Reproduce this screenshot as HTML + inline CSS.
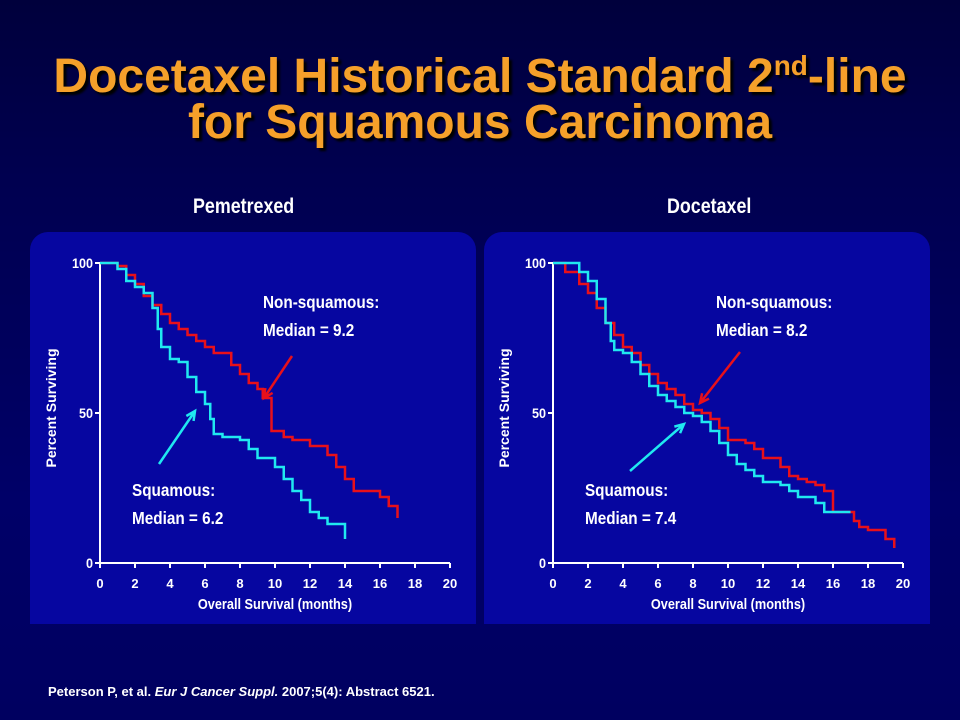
<!DOCTYPE html>
<html><head><meta charset="utf-8">
<style>
body{margin:0;width:960px;height:720px;overflow:hidden;background:linear-gradient(#00003c 0px,#000050 180px,#000068 500px,#000060 720px);font-family:"Liberation Sans",Arial,sans-serif;position:relative}
.title{position:absolute;left:0;width:960px;top:54px;text-align:center;color:#f5a02a;font-weight:bold;font-size:48px;line-height:46px;text-shadow:3px 3px 2px #000}
.title sup{font-size:28px;vertical-align:17px;line-height:0}
.panel{position:absolute;top:232px;width:446px;height:392px;background:#0606a0;border-radius:18px 18px 0 0}
.ptitle{position:absolute;top:195px;color:#fff;font-weight:bold;font-size:21px;transform:scaleX(0.85);transform-origin:left}
.foot{position:absolute;left:48px;top:684px;color:#fff;font-weight:bold;font-size:13px}
svg{position:absolute;left:0;top:0}
</style></head><body>
<div class="title">Docetaxel Historical Standard 2<sup>nd</sup>-line<br>for Squamous Carcinoma</div>
<div class="panel" style="left:30px"></div>
<div class="panel" style="left:484px"></div>
<div class="ptitle" style="left:193px">Pemetrexed</div>
<div class="ptitle" style="left:667px">Docetaxel</div>
<div class="foot">Peterson P, et al. <i>Eur J Cancer Suppl.</i> 2007;5(4): Abstract 6521.</div>
<svg id="chart" width="960" height="720"></svg>
<script>
const xTicks=[0,2,4,6,8,10,12,14,16,18,20];
const yTicks=[0,50,100];
const pemNonSqX=[0,1,1.5,2,2.5,3,3.5,4,4.5,5,5.5,6,6.5,7,7.5,8,8.5,9,9.3,9.8,10.5,11,12,13,13.5,14,14.5,15,16,16.5,17];
const pemNonSqY=[100,99,96,93,89,86,83,80,78,76,74,72,70,70,66,63,60,58,55,44,42,41,39,36,32,28,24,24,22,19,15];
const pemSqX=[0,1,1.5,2,2.5,3,3.3,3.5,4,4.5,5,5.5,6,6.3,6.5,7,8,8.5,9,10,10.5,11,11.5,12,12.5,13,14,14];
const pemSqY=[100,98,94,92,90,85,78,72,68,67,62,57,53,48,43,42,41,38,35,32,28,24,21,17,15,13,12,8];
const docNonSqX=[0,0.7,1.5,2,2.5,3,3.5,4,4.5,5,5.5,6,6.5,7,7.5,8,8.5,9,9.5,10,11,11.5,12,13,13.5,14,14.5,15,15.5,16,17,17.2,17.5,18,19,19.5];
const docNonSqY=[100,97,93,90,85,80,76,72,70,66,63,60,58,56,53,51,50,48,45,41,40,38,35,32,29,28,27,26,24,17,17,14,12,11,8,5];
const docSqX=[0,1,1.5,2,2.5,3,3.3,3.5,4,4.5,5,5.5,6,6.5,7,7.5,8,8.5,9,9.5,10,10.5,11,11.5,12,13,13.5,14,15,15.5,17];
const docSqY=[100,100,97,94,88,80,74,71,70,67,63,59,56,54,52,50,49,47,44,40,36,33,31,29,27,26,24,22,20,17,17];
const NS='http://www.w3.org/2000/svg';
const svg=document.getElementById('chart');
function mk(tag,attrs,parent){const e=document.createElementNS(NS,tag);for(const k in attrs)e.setAttribute(k,attrs[k]);(parent||svg).appendChild(e);return e;}
function drawChart(x0,prefix,nsX,nsY,sqX,sqY,nsMed,sqMed,nsLbl,sqLbl,nsArrow,sqArrow){
  const g=mk('g',{});
  
  
  const X=v=>x0+v*17.5, Y=v=>563-v*3;
  const ax=mk('path',{d:`M${X(0)} ${Y(100)}V${Y(0)}H${X(20)}`,stroke:'#fff','stroke-width':2,fill:'none'},g);
  
  
  xTicks.forEach(t=>{
    mk('line',{x1:X(t),x2:X(t),y1:Y(0),y2:Y(0)+5,stroke:'#fff','stroke-width':2},g);
    const tx=mk('text',{x:X(t),y:588,fill:'#fff','font-size':13,'font-weight':'bold','text-anchor':'middle','font-family':'Liberation Sans'},g);
    tx.textContent=t;
    
    
  });
  yTicks.forEach(t=>{
    mk('line',{x1:X(0)-5,x2:X(0),y1:Y(t),y2:Y(t),stroke:'#fff','stroke-width':2},g);
    const tx=mk('text',{x:X(0)-7,y:Y(t)+5,fill:'#fff','font-size':14,'font-weight':'bold','text-anchor':'end','font-family':'Liberation Sans',transform:`translate(${X(0)-7} 0) scale(0.9 1) translate(${-(X(0)-7)} 0)`},g);
    tx.textContent=t;
    
    
  });
  const xt=mk('text',{x:X(10),y:609,fill:'#fff','font-size':15,'font-weight':'bold','text-anchor':'middle','font-family':'Liberation Sans',transform:`translate(${X(10)} 0) scale(0.85 1) translate(${-X(10)} 0)`},g);
  xt.textContent='Overall Survival (months)';
  
  
  const yt=mk('text',{x:0,y:0,fill:'#fff','font-size':14,'font-weight':'bold','text-anchor':'middle','font-family':'Liberation Sans',transform:`translate(${x0-44} 408) rotate(-90)`},g);
  yt.textContent='Percent Surviving';
  
  
  function step(xs,ys){let d=`M${X(xs[0])} ${Y(ys[0])}`;for(let i=1;i<xs.length;i++){d+=`H${X(xs[i])}V${Y(ys[i])}`;}return d;}
  const r=mk('path',{d:step(nsX,nsY),stroke:'#e8101a','stroke-width':2.5,fill:'none'},g);
  
  
  const c=mk('path',{d:step(sqX,sqY),stroke:'#20e8f0','stroke-width':2.5,fill:'none'},g);
  
  
  function label(x,y,l1,l2,name){
    const t1=mk('text',{x:x,y:y,fill:'#fff','font-size':18,'font-weight':'bold','font-family':'Liberation Sans',transform:`translate(${x} 0) scale(0.85 1) translate(${-x} 0)`},g);t1.textContent=l1;
    
    
    const t2=mk('text',{x:x,y:y+28,fill:'#fff','font-size':18,'font-weight':'bold','font-family':'Liberation Sans',transform:`translate(${x} 0) scale(0.85 1) translate(${-x} 0)`},g);t2.textContent=l2;
    
    
  }
  label(nsLbl[0],nsLbl[1],'Non-squamous:','Median = '+nsMed,'non-squamous');
  label(sqLbl[0],sqLbl[1],'Squamous:','Median = '+sqMed,'squamous');
  function arrow(a,col,name){
    const [x1,y1,x2,y2]=a;const ang=Math.atan2(y2-y1,x2-x1),L=10;
    const l=mk('path',{d:`M${x1} ${y1}L${x2} ${y2}M${x2-L*Math.cos(ang-0.45)} ${y2-L*Math.sin(ang-0.45)}L${x2} ${y2}L${x2-L*Math.cos(ang+0.45)} ${y2-L*Math.sin(ang+0.45)}`,stroke:col,'stroke-width':2.5,fill:'none'},g);
    
    
  }
  arrow(nsArrow,'#e8101a','non-squamous');
  arrow(sqArrow,'#20e8f0','squamous');
}
drawChart(100,'pemetrexed',pemNonSqX,pemNonSqY,pemSqX,pemSqY,'9.2','6.2',[263,308],[132,496],[292,356,264,398],[159,464,195,411]);
drawChart(553,'docetaxel',docNonSqX,docNonSqY,docSqX,docSqY,'8.2','7.4',[716,308],[585,496],[740,352,700,403],[630,471,684,424]);
</script>
</body></html>
